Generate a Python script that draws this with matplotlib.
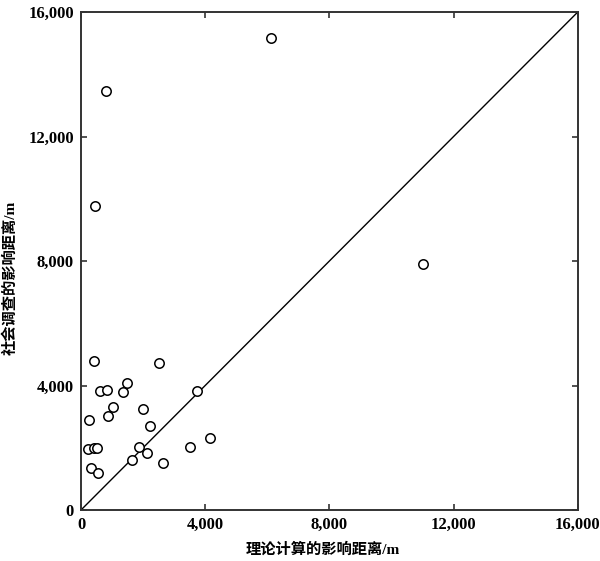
import numpy as np
import matplotlib.pyplot as plt

# theoretical influence distance (x) vs survey influence distance (y), metres
calc_dist = [430, 2510, 1470, 600, 830, 1350, 3735, 1040, 1990, 270,
             860, 2230, 4140, 215, 430, 525, 1880, 3520, 2140, 1630,
             2640, 310, 550, 6120, 805, 450, 11010]
survey_dist = [4800, 4730, 4070, 3820, 3860, 3790, 3830, 3320, 3230, 2880,
               3010, 2710, 2320, 1970, 1980, 1980, 2010, 2010, 1840, 1600,
               1500, 1350, 1190, 15170, 13460, 9770, 7900]

ticks = [0, 4000, 8000, 12000, 16000]
tick_labels = ["0", "4,000", "8,000", "12,000", "16,000"]

fonts = ['Liberation Serif', 'Noto Sans CJK SC']

fig = plt.figure(figsize=(6, 5.61), dpi=100)
ax = fig.add_axes([0.135, 0.0909, 0.828, 0.8877])

ax.plot([0, 16000], [0, 16000], color='black', lw=1.0, zorder=1)
ax.scatter(calc_dist, survey_dist, s=46, facecolors='white', edgecolors='black',
           linewidths=1.1, zorder=2, clip_on=False)

ax.set_xlim(0, 16000)
ax.set_ylim(0, 16000)
ax.set_xticks(ticks)
ax.set_yticks(ticks)
ax.set_xticklabels(tick_labels, fontfamily=fonts, fontweight='bold', fontsize=12)
ax.set_yticklabels(tick_labels, fontfamily=fonts, fontweight='bold', fontsize=12)
ax.tick_params(direction='in', length=4, width=1.2, top=True, right=True,
               color='#333333', pad=5)

for sp in ax.spines.values():
    sp.set_linewidth(1.4)
    sp.set_color('#333333')

ax.set_xlabel("理论计算的影响距离/m", fontfamily=fonts, fontweight='bold', fontsize=11)
ax.set_ylabel("社会调查的影响距离/m", fontfamily=fonts, fontweight='bold', fontsize=11)
ax.xaxis.set_label_coords(0.486, -0.065)
ax.yaxis.set_label_coords(-0.128, 0.466)

fig.savefig("out.png", dpi=100)
